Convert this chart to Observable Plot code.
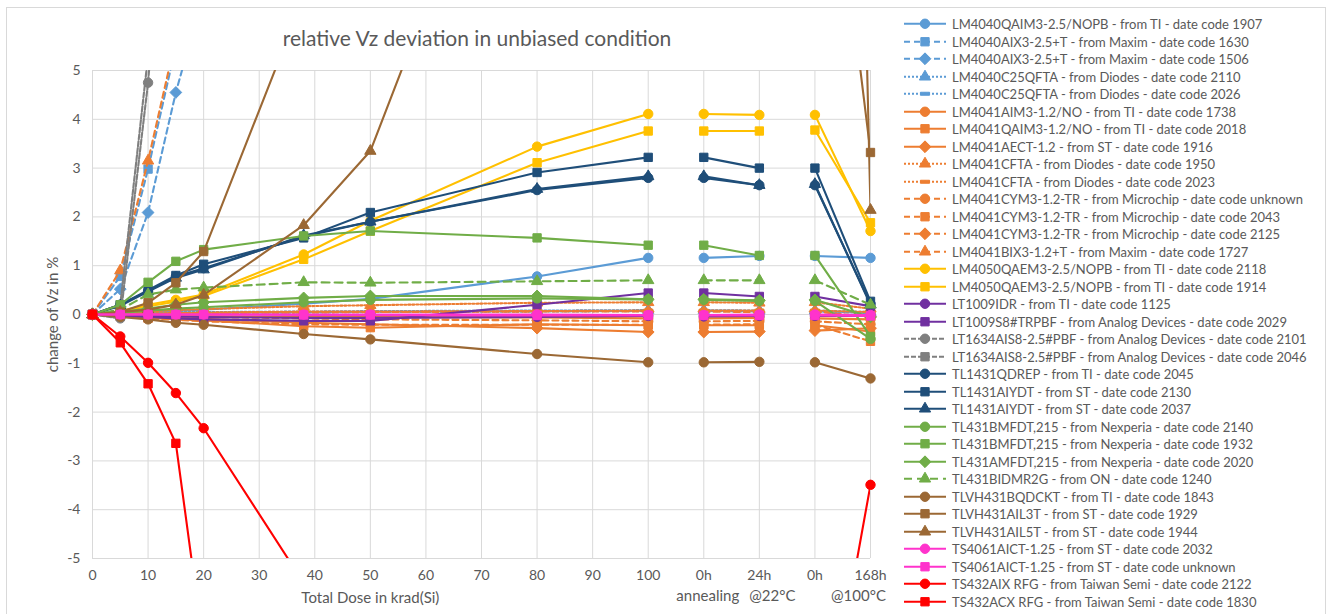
<!DOCTYPE html>
<html>
<head>
<meta charset="utf-8">
<script src="https://cdn.jsdelivr.net/npm/d3@7"></script>
<script src="https://cdn.jsdelivr.net/npm/@observablehq/plot@0.6"></script>
<style>
  body { margin: 0; background: #fff; font-family: Lato, "Open Sans", sans-serif; }
  #wrap { position: relative; width: 1332px; height: 614px; overflow: hidden; }
  #frame { position: absolute; left: 6px; top: 7px; width: 1320px; height: 640px; border: 1px solid #d9d9d9; box-sizing: border-box; }
  #title { position: absolute; left: 227px; width: 500px; top: 25px; text-align: center; font-size: 21px; color: #595959; }
  #chart { position: absolute; left: 0; top: 0; }
  #legend { position: absolute; left: 0; top: 0; }
  .row { position: absolute; left: 902px; height: 17.5px; display: flex; align-items: center; font-size: 13px; color: #595959; white-space: nowrap; }
  .row svg { margin-right: 4px; }
</style>
</head>
<body>
<div id="wrap">
  <div id="frame"></div>
  <div id="chart"></div>
  <div id="title">relative Vz deviation in unbiased condition</div>
  <div id="legend"></div>
</div>
<script>
// x values: total dose (krad) then annealing steps
const xValues = [0, 5, 10, 15, 20, 38, 50, 80, 100, 110, 120, 130, 140];
const xSegment = [0, 0, 0, 0, 0, 0, 0, 0, 0, 1, 1, 2, 2];
const xTickValues = [0, 10, 20, 30, 40, 50, 60, 70, 80, 90, 100, 110, 120, 130, 140];
const xTickLabels = ["0", "10", "20", "30", "40", "50", "60", "70", "80", "90", "100", "0h", "24h", "0h", "168h"];
const yTickValues = [-5, -4, -3, -2, -1, 0, 1, 2, 3, 4, 5];

const seriesNames = [
  "LM4040QAIM3-2.5/NOPB - from TI - date code 1907",
  "LM4040AIX3-2.5+T - from Maxim - date code 1630",
  "LM4040AIX3-2.5+T - from Maxim - date code 1506",
  "LM4040C25QFTA - from Diodes - date code 2110",
  "LM4040C25QFTA - from Diodes - date code 2026",
  "LM4041AIM3-1.2/NO - from TI - date code 1738",
  "LM4041QAIM3-1.2/NO - from TI - date code 2018",
  "LM4041AECT-1.2 - from ST - date code 1916",
  "LM4041CFTA - from Diodes - date code 1950",
  "LM4041CFTA - from Diodes - date code 2023",
  "LM4041CYM3-1.2-TR - from Microchip - date code unknown",
  "LM4041CYM3-1.2-TR - from Microchip - date code 2043",
  "LM4041CYM3-1.2-TR - from Microchip - date code 2125",
  "LM4041BIX3-1.2+T - from Maxim - date code 1727",
  "LM4050QAEM3-2.5/NOPB - from TI - date code 2118",
  "LM4050QAEM3-2.5/NOPB - from TI - date code 1914",
  "LT1009IDR - from TI - date code 1125",
  "LT1009S8#TRPBF - from Analog Devices - date code 2029",
  "LT1634AIS8-2.5#PBF - from Analog Devices - date code 2101",
  "LT1634AIS8-2.5#PBF - from Analog Devices - date code 2046",
  "TL1431QDREP - from TI - date code 2045",
  "TL1431AIYDT - from ST - date code 2130",
  "TL1431AIYDT - from ST - date code 2037",
  "TL431BMFDT,215 - from Nexperia - date code 2140",
  "TL431BMFDT,215 - from Nexperia - date code 1932",
  "TL431AMFDT,215 - from Nexperia - date code 2020",
  "TL431BIDMR2G - from ON - date code 1240",
  "TLVH431BQDCKT - from TI - date code 1843",
  "TLVH431AIL3T - from ST - date code 1929",
  "TLVH431AIL5T - from ST - date code 1944",
  "TS4061AICT-1.25 - from ST - date code 2032",
  "TS4061AICT-1.25 - from ST - date code unknown",
  "TS432AIX RFG - from Taiwan Semi - date code 2122",
  "TS432ACX RFG - from Taiwan Semi - date code 1830"
];

const BLUE = "#5B9BD5", ORANGE = "#ED7D31", GOLD = "#FFC000", PURPLE = "#7030A0", GREY = "#7F7F7F",
      NAVY = "#1F4E79", GREEN = "#70AD47", BROWN = "#9B6834", MAGENTA = "#FF33CC", RED = "#FF0000";
const seriesColors = [BLUE, BLUE, BLUE, BLUE, BLUE, ORANGE, ORANGE, ORANGE, ORANGE, ORANGE, ORANGE, ORANGE, ORANGE, ORANGE,
  GOLD, GOLD, PURPLE, PURPLE, GREY, GREY, NAVY, NAVY, NAVY, GREEN, GREEN, GREEN, GREEN, BROWN, BROWN, BROWN,
  MAGENTA, MAGENTA, RED, RED];
const seriesDash = ["", "6,4", "6,4", "2,2", "2,2", "", "", "", "2,2", "2,2", "6,4", "6,4", "6,4", "6,4",
  "", "", "", "", "5,2", "5,2", "", "", "", "", "", "", "8,5", "", "", "", "", "", "", ""];
const seriesSymbol = ["circle", "square", "diamond", "triangle", "dash", "circle", "square", "diamond", "triangle", "dash",
  "circle", "square", "diamond", "triangle", "circle", "square", "circle", "square", "circle", "square",
  "circle", "square", "triangle", "circle", "square", "diamond", "triangle", "circle", "square", "triangle",
  "circle", "square", "circle", "square"];

// change of Vz in % at each x value (null = not shown)
const seriesValues = [
  [0, 0.02, 0.05, 0.08, 0.1, 0.22, 0.32, 0.78, 1.16, 1.16, 1.2, 1.2, 1.16],
  [0, 0.78, 2.98, 5.5],
  [0, 0.52, 2.09, 4.55, 6.6],
  [0, 0.02, 0.04, 0.05, 0.05, 0.06, 0.07, 0.08, 0.09, 0.09, 0.08, 0.08, 0.05],
  [0, 0.01, 0.02, 0.03, 0.03, 0.04, 0.05, 0.06, 0.07, 0.07, 0.06, 0.06, 0.03],
  [0, -0.01, -0.02, -0.03, -0.03, -0.05, -0.05, -0.06, -0.08, -0.08, -0.07, -0.08, -0.1],
  [0, -0.03, -0.06, -0.1, -0.12, -0.24, -0.27, -0.2, -0.22, -0.22, -0.22, -0.22, -0.35],
  [0, -0.03, -0.05, -0.07, -0.09, -0.17, -0.2, -0.28, -0.36, -0.36, -0.35, -0.33, -0.28],
  [0, 0.03, 0.06, 0.09, 0.11, 0.17, 0.19, 0.24, 0.25, 0.25, 0.24, 0.25, 0.12],
  [0, 0.01, 0.02, 0.03, 0.04, 0.06, 0.06, 0.07, 0.08, 0.08, 0.08, 0.08, 0.05],
  [0, -0.02, -0.03, -0.04, -0.05, -0.08, -0.1, -0.12, -0.14, -0.14, -0.13, -0.14, -0.2],
  [0, -0.04, -0.08, -0.11, -0.14, -0.2, -0.21, -0.21, -0.21, -0.21, -0.2, -0.21, -0.55],
  [0, 0, 0.01, 0.02, 0.03, 0.04, 0.05, 0.06, 0.06, 0.06, 0.05, 0.06, -0.05],
  [0, 0.9, 3.15, 5.65],
  [0, 0.07, 0.2, 0.3, 0.41, 1.23, 1.92, 3.44, 4.11, 4.11, 4.09, 4.09, 1.71],
  [0, 0.06, 0.17, 0.26, 0.38, 1.13, 1.71, 3.11, 3.76, 3.76, 3.76, 3.78, 1.88],
  [0, -0.02, -0.03, -0.04, -0.05, -0.07, -0.07, -0.05, -0.03, -0.04, -0.03, -0.03, -0.03],
  [0, -0.03, -0.05, -0.08, -0.1, -0.13, -0.13, 0.2, 0.44, 0.44, 0.37, 0.37, 0.17],
  [0, -0.08, 4.75, 12],
  [0, 0.2, 5.3, 14],
  [0, 0.2, 0.48, 0.78, 0.95, 1.6, 1.9, 2.55, 2.8, 2.8, 2.65, 2.65, 0.22],
  [0, 0.2, 0.5, 0.8, 1.03, 1.57, 2.09, 2.91, 3.22, 3.22, 3.0, 3.0, 0.27],
  [0, 0.18, 0.47, 0.75, 0.92, 1.62, 1.9, 2.57, 2.83, 2.83, 2.65, 2.67, 0.2],
  [0, 0.03, 0.08, 0.12, 0.15, 0.25, 0.3, 0.33, 0.31, 0.3, 0.28, 0.28, -0.5],
  [0, 0.2, 0.66, 1.09, 1.33, 1.61, 1.71, 1.57, 1.42, 1.42, 1.21, 1.21, -0.45],
  [0, 0.05, 0.12, 0.2, 0.25, 0.34, 0.38, 0.38, 0.31, 0.31, 0.29, 0.3, -0.05],
  [0, 0.1, 0.41, 0.51, 0.55, 0.66, 0.65, 0.68, 0.7, 0.7, 0.7, 0.7, 0.2],
  [0, -0.05, -0.1, -0.17, -0.21, -0.4, -0.51, -0.81, -0.98, -0.98, -0.97, -0.98, -1.31],
  [0, 0.05, 0.24, 0.65, 1.29, 6.5, null, null, null, null, null, 12.6, 3.32],
  [0, 0.05, 0.1, 0.2, 0.4, 1.83, 3.35, 12.2, null, null, null, 50, 2.14],
  [0, 0, 0, 0, 0, 0, 0, 0, -0.01, -0.01, 0, 0, -0.01],
  [0, 0, 0, 0, 0, -0.01, -0.01, -0.02, -0.02, -0.02, -0.02, -0.02, -0.03],
  [0, -0.45, -0.99, -1.61, -2.33, -5.5, null, null, null, null, null, -9.8, -3.49],
  [0, -0.58, -1.42, -2.64, -6.85]
];

const xSubLabels = ["annealing", "@22°C", "@100°C"];
const xSubTicks = [110, 120, 140];

// ---------- drawing ----------
const dashSymbol = {
  draw(ctx, size) {
    const w = Math.sqrt(size) * 1.15, h = 1.5;
    ctx.moveTo(-w / 2, -h); ctx.lineTo(w / 2, -h); ctx.lineTo(w / 2, h); ctx.lineTo(-w / 2, h); ctx.closePath();
  }
};
const symbolMap = {
  circle: d3.symbolCircle, square: d3.symbolSquare, diamond: d3.symbolDiamond2,
  triangle: d3.symbolTriangle, dash: dashSymbol
};
const symbolR = { circle: 4.7, square: 4.7, diamond: 5.3, triangle: 4.2, dash: 4.5 };

const TXT = "#595959", GRID = "#d9d9d9";
const marks = [
  Plot.gridY(yTickValues, { stroke: GRID, strokeOpacity: 1, strokeWidth: 1 }),
  Plot.gridX(xTickValues, { stroke: GRID, strokeOpacity: 1, strokeWidth: 1 }),
  Plot.axisY(yTickValues, { tickSize: 0, tickPadding: 12, label: null, fontSize: 14, fill: TXT,
    tickFormat: d => String(d) }),
  Plot.axisX(xTickValues, { tickSize: 0, tickPadding: 12, label: null, fontSize: 14, fill: TXT,
    tickFormat: d => xTickLabels[xTickValues.indexOf(d)] })
];

seriesValues.forEach((vals, i) => {
  const data = xValues.map((x, j) => ({ x, y: vals[j] === undefined ? null : vals[j], seg: xSegment[j] }))
    .filter((d, j) => j < vals.length);
  const sym = seriesSymbol[i];
  marks.push(Plot.line(data, {
    x: "x", y: "y", z: "seg", stroke: seriesColors[i], strokeWidth: 2.1,
    strokeDasharray: seriesDash[i] || null, clip: true
  }));
  marks.push(Plot.dot(data.filter(d => d.y != null && d.y >= -5 && d.y <= 5), {
    x: "x", y: "y", symbol: symbolMap[sym], r: symbolR[sym],
    fill: seriesColors[i], stroke: seriesColors[i], strokeWidth: 1
  }));
});

marks.push(Plot.text(["change of Vz in %"], { frameAnchor: "left", textAnchor: "middle", rotate: -90, dx: -39, fontSize: 15, fill: TXT }));
marks.push(Plot.text(["Total Dose in krad(Si)"], { x: 50, y: -5, dy: 40, fontSize: 15, fill: TXT }));
marks.push(Plot.text([xSubLabels[0]], { x: xSubTicks[0], y: -5, dy: 38, dx: 4, fontSize: 15, fill: TXT }));
marks.push(Plot.text([xSubLabels[1]], { x: xSubTicks[1], y: -5, dy: 38, dx: 13, fontSize: 15, fill: TXT }));
marks.push(Plot.text([xSubLabels[2]], { x: xSubTicks[2], y: -5, dy: 38, dx: -12, fontSize: 15, fill: TXT }));

const chart = Plot.plot({
  width: 890, height: 614,
  marginLeft: 92, marginRight: 20, marginTop: 70, marginBottom: 56,
  x: { domain: [0, 140] },
  y: { domain: [-5, 5] },
  style: { fontFamily: "Lato, 'Open Sans', sans-serif", background: "transparent", color: TXT },
  marks
});
document.getElementById("chart").appendChild(chart);

// legend
const legend = d3.select("#legend");
seriesNames.forEach((name, i) => {
  const row = legend.append("div").attr("class", "row").style("top", (15.25 + i * 17.5) + "px");
  const svg = row.append("svg").attr("width", 46).attr("height", 17.5);
  svg.append("line").attr("x1", 2).attr("x2", 44).attr("y1", 8.75).attr("y2", 8.75)
    .attr("stroke", seriesColors[i]).attr("stroke-width", 2)
    .attr("stroke-dasharray", seriesDash[i] || null);
  const sym = seriesSymbol[i];
  const r = symbolR[sym];
  svg.append("path").attr("transform", "translate(23,8.75)")
    .attr("d", d3.symbol(symbolMap[sym], r * r * Math.PI)())
    .attr("fill", seriesColors[i]).attr("stroke", seriesColors[i]).attr("stroke-width", 1);
  row.append("span").text(name);
});
</script>
</body>
</html>
